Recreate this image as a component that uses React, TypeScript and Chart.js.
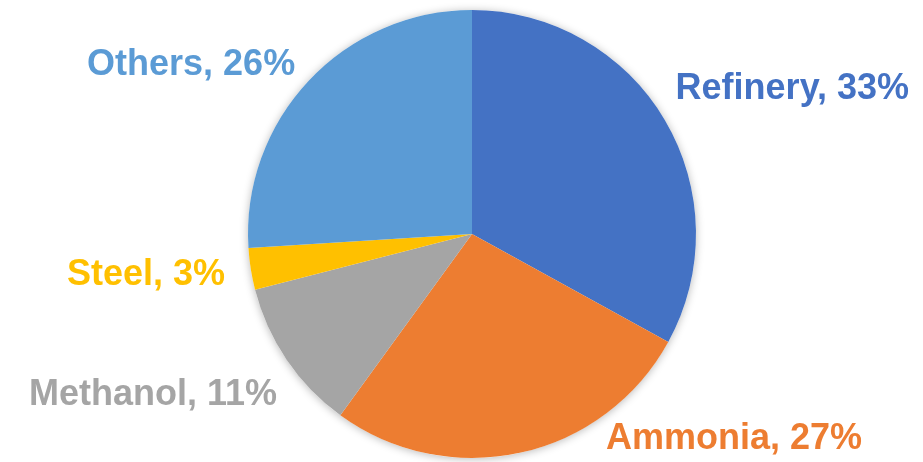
import React, { useEffect, useRef } from "react";
import { Chart, registerables } from "chart.js";

Chart.register(...registerables);

const categories = ["Refinery", "Ammonia", "Methanol", "Steel", "Others"];
const shares = [33, 27, 11, 3, 26];
const colors = ["#4472C4", "#ED7D31", "#A5A5A5", "#FFC000", "#5B9BD5"];
// label centre offsets relative to the pie centre, in units of the pie radius
const labelOffsetX = [1.43, 1.17, -1.424, -1.455, -1.254];
const labelOffsetY = [-0.647, 0.915, 0.719, 0.183, -0.754];

const labelPlugin = {
  id: "pieLabels",
  beforeDatasetsDraw(chart: any) {
    const meta = chart.getDatasetMeta(0);
    const arc = meta.data[0];
    if (!arc) return;
    const { x, y, outerRadius } = arc.getProps(["x", "y", "outerRadius"], true);
    const ctx = chart.ctx;
    ctx.save();
    ctx.shadowColor = "rgba(0,0,0,0.28)";
    ctx.shadowBlur = 8;
    ctx.shadowOffsetX = 0;
    ctx.shadowOffsetY = 1;
    ctx.fillStyle = "#ffffff";
    ctx.beginPath();
    ctx.arc(x, y, outerRadius, 0, Math.PI * 2);
    ctx.fill();
    ctx.restore();
  },
  afterDatasetsDraw(chart: any) {
    const meta = chart.getDatasetMeta(0);
    const arc = meta.data[0];
    if (!arc) return;
    const { x, y, outerRadius } = arc.getProps(["x", "y", "outerRadius"], true);
    const ctx = chart.ctx;
    ctx.save();
    ctx.font = "bold 36px 'Liberation Sans', Arial, sans-serif";
    ctx.textAlign = "center";
    ctx.textBaseline = "middle";
    const data = chart.data.datasets[0].data as number[];
    chart.data.labels.forEach((lab: string, i: number) => {
      ctx.fillStyle = colors[i];
      ctx.fillText(
        `${lab}, ${data[i]}%`,
        x + labelOffsetX[i] * outerRadius,
        y + labelOffsetY[i] * outerRadius
      );
    });
    ctx.restore();
  },
};

export default function App() {
  const ref = useRef<HTMLCanvasElement | null>(null);
  useEffect(() => {
    if (!ref.current) return;
    const chart = new Chart(ref.current, {
      type: "pie",
      data: {
        labels: categories,
        datasets: [
          {
            data: shares,
            backgroundColor: colors,
            borderWidth: 0,
          },
        ],
      },
      options: {
        animation: false,
        responsive: false,
        maintainAspectRatio: false,
        layout: { padding: { top: 10, bottom: 4, left: 248, right: 227 } },
        plugins: {
          legend: { display: false },
          tooltip: { enabled: false },
        },
      },
      plugins: [labelPlugin],
    });
    return () => chart.destroy();
  }, []);
  return (
    <div style={{ position: "fixed", left: 0, top: 0, width: 923, height: 462, background: "#fff" }}>
      <canvas ref={ref} width={923} height={462} style={{ width: 923, height: 462 }} />
    </div>
  );
}
